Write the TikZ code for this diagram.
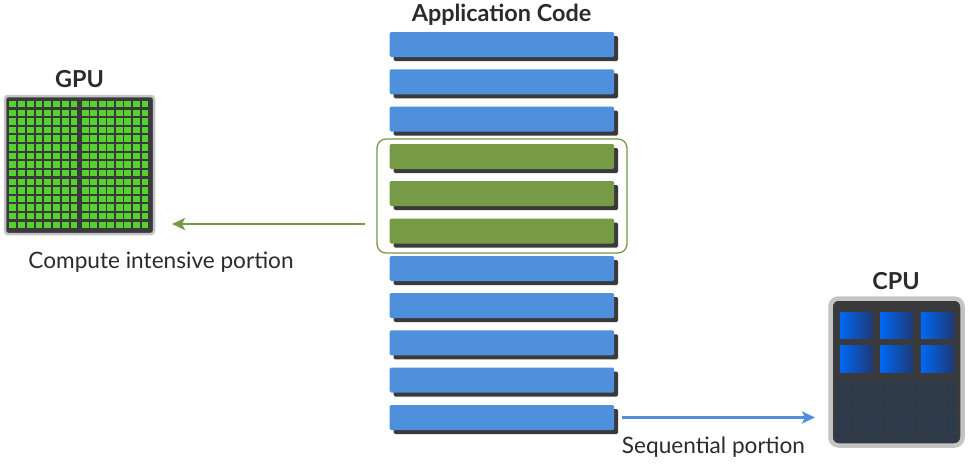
\documentclass[tikz,border=0pt]{standalone}
\usepackage{fontspec}
\setmainfont{Lato}
\usetikzlibrary{arrows.meta,shadows}
\definecolor{barblue}{HTML}{4F90DC}
\definecolor{bargreen}{HTML}{769A45}
\definecolor{chipdark}{HTML}{3A3A3C}
\definecolor{chiprim}{HTML}{C4C4C4}
\definecolor{gpucell}{HTML}{55D22E}
\definecolor{cpugrid}{HTML}{2A3B50}
\definecolor{coreleft}{HTML}{0068F5}
\definecolor{coreright}{HTML}{1C3A78}
\definecolor{inktext}{HTML}{2B2B2B}
\tikzset{
  codebar/.style={minimum width=224.5pt,minimum height=25pt,inner sep=0pt,rounded corners=1.5pt,
    copy shadow={shadow xshift=4pt,shadow yshift=-4pt,fill=chipdark,draw=none,opacity=1}},
  bluebar/.style={codebar,fill=barblue},
  greenbar/.style={codebar,fill=bargreen},
  heading/.style={font=\bfseries\fontsize{23.4}{26}\selectfont,text=inktext,inner sep=0pt},
  caption/.style={font=\fontsize{22.6}{26}\selectfont,text=inktext,inner sep=0pt},
  flow/.style={line width=2.8pt,-{Stealth[length=13pt,width=12pt,inset=3pt]}},
  chiprimstyle/.style={fill=chipdark,draw=chiprim,inner sep=0pt},
  gpucellstyle/.style={fill=gpucell,minimum width=6.8pt,minimum height=6.4pt,inner sep=0pt},
  cpucore/.style={left color=coreleft,right color=coreright,minimum width=32.5pt,minimum height=26.5pt,inner sep=0pt}
}
\begin{document}
\begin{tikzpicture}[x=1pt,y=-1pt]
  \useasboundingbox (0,0) rectangle (969,464);
  \fill[white] (0,0) rectangle (969,464);
  % code bars
  \node [heading] (apptitle) at (501.5,14.5) {Application Code};
  \foreach \name/\ypos/\kind in {1/44.5/bluebar,2/81.8/bluebar,3/119/bluebar,4/156.5/greenbar,5/193.5/greenbar,6/231/greenbar,7/268.5/bluebar,8/305.5/bluebar,9/342.8/bluebar,10/380/bluebar,11/417.5/bluebar}
    \node [\kind] (bar\name) at (501.8,\ypos) {};
  \node [draw=bargreen,line width=1.3pt,rounded corners=9pt,minimum width=250pt,minimum height=114pt] (hotbox) at (502,196) {};
  % gpu
  \node [heading] (gputitle) at (79.5,79.5) {GPU};
  \node [chiprimstyle,line width=2.5pt,rounded corners=3pt,minimum width=149pt,minimum height=138pt] (gpu) at (79.5,165) {};
  \foreach \row in {0,...,14}
    \foreach \col in {0,...,7} {
      \node [gpucellstyle] (gl\row\col) at (12.7+\col*8.75,104.2+\row*8.62) {};
      \node [gpucellstyle] (gr\row\col) at (85.1+\col*8.55,104.2+\row*8.62) {};
    }
  \node [caption] (gpulabel) at (161,262) {Compute intensive portion};
  % cpu
  \node [heading] (cputitle) at (896,281) {CPU};
  \node [chiprimstyle,line width=4.5pt,rounded corners=8pt,minimum width=132pt,minimum height=147pt] (cpu) at (896.5,372) {};
  \foreach \name/\xpos/\ypos in {a/856/325.5,b/896.5/325.5,c/937/325.5,d/856/359,e/896.5/359,f/937/359}
    \node [cpucore] (core\name) at (\xpos,\ypos) {};
  \fill [cpugrid,rounded corners=2pt] (836,380) rectangle (957,442);
  \foreach \xline in {0,...,18}
    \draw [chipdark,line width=0.9pt] (842.5+\xline*6.4,380) -- (842.5+\xline*6.4,442);
  \foreach \yline in {0,...,10}
    \draw [chipdark,line width=0.9pt] (836,382+\yline*5.6) -- (957,382+\yline*5.6);
  % arrows
  \coordinate (gpufrom) at (365,224);
  \coordinate (gputo) at (172,224);
  \coordinate (cpufrom) at (622,417.5);
  \coordinate (cputo) at (815,417.5);
  \draw [flow,bargreen] (gpufrom) -- (gputo);
  \draw [flow,barblue] (cpufrom) -- (cputo);
  \node [caption] (cpulabel) at (713.5,447) {Sequential portion};
\end{tikzpicture}
\end{document}
